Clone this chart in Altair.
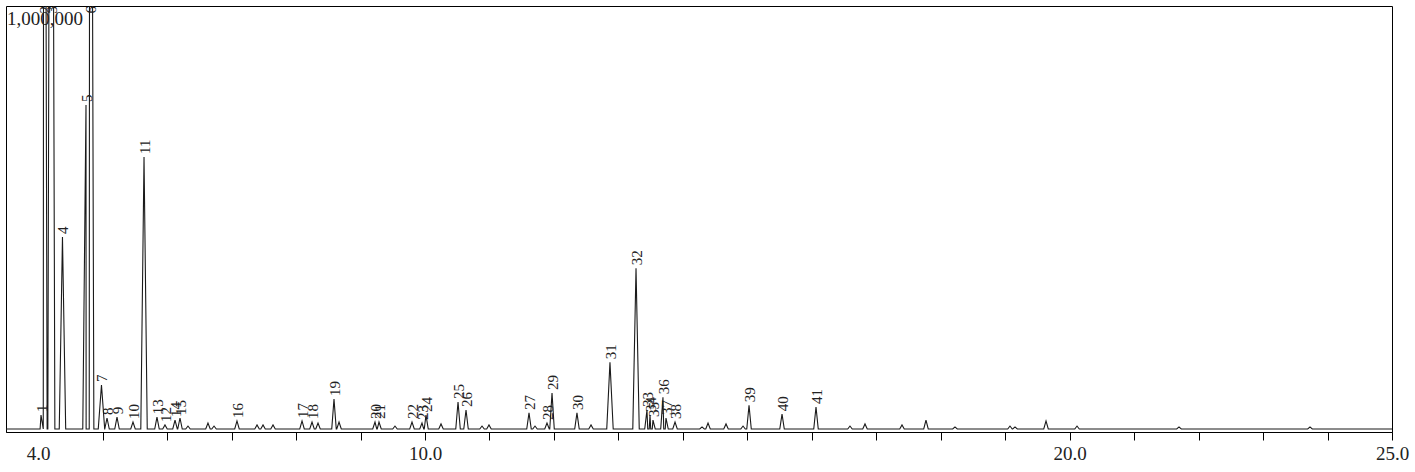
import altair as alt
import pandas as pd

# Labelled peaks: retention time (min) and intensity (counts)
peak_labels = [str(i) for i in range(1, 42)]
peak_times = [4.043, 4.089, 4.198, 4.376, 4.741, 4.803, 4.981, 5.067, 5.222, 5.470,
              5.641, 5.966, 5.842, 6.122, 6.199, 7.083, 8.092, 8.247, 8.588, 9.224,
              9.286, 9.798, 9.953, 10.015, 10.512, 10.636, 11.613, 11.892, 11.970, 12.357,
              12.869, 13.273, 13.443, 13.490, 13.536, 13.691, 13.738, 13.878, 15.026, 15.538,
              16.065]
peak_heights = [33000, 3000000, 3000000, 454000, 766000, 3000000, 104000, 26000, 28000, 16500,
                643000, 9500, 28000, 21000, 26000, 19000, 19000, 16500, 71000, 16500,
                16500, 16500, 14000, 33000, 64000, 45000, 38000, 14000, 85000, 38000,
                158000, 380000, 45000, 33000, 21000, 75000, 26000, 16500, 56000, 35000,
                52000]

# Unlabelled minor peaks
minor_times = [6.323, 6.633, 6.727, 7.394, 7.487, 7.642, 8.340, 8.666, 9.534, 10.248,
               10.884, 10.992, 11.706, 12.575, 14.297, 14.390, 14.669, 14.933, 16.592, 16.825,
               17.399, 17.771, 18.221, 19.074, 19.152, 19.633, 20.114, 21.696, 23.728]
minor_heights = [7000, 14000, 7000, 9500, 9500, 9500, 14000, 16500, 7000, 12000,
                 7000, 9500, 7000, 9500, 5000, 14000, 12000, 7000, 7000, 12000,
                 9500, 21000, 5000, 7000, 5000, 19000, 7000, 5000, 5000]

x_start, x_end = 3.5, 25.0
y_top = 1000000
tick_values = list(range(4, 26))

# Build the trace: each peak is baseline -> apex -> baseline
pts = [(x_start, 0.0), (x_end, 0.0)]
for t, h in zip(peak_times + minor_times, peak_heights + minor_heights):
    w = 0.06 if h > 1000000 else (0.05 if h >= 100000 else 0.035)
    pts += [(t - w, 0.0), (t, float(h)), (t + w, 0.0)]
pts.sort(key=lambda p: p[0])
trace = pd.DataFrame(pts, columns=["time", "intensity"])

labels = pd.DataFrame({
    "time": peak_times,
    "ly": [min(h, 975000) for h in peak_heights],
    "label": peak_labels,
})

xscale = alt.Scale(domain=[x_start, x_end], nice=False, zero=False)
yscale = alt.Scale(domain=[-7100, y_top], nice=False, zero=False)

label_expr = ("datum.value == 4 || datum.value == 10 || datum.value == 20 || datum.value == 25"
              " ? format(datum.value, '.1f') : ''")

line = alt.Chart(trace).mark_line(color="#1a1a1a", strokeWidth=1.1, clip=True).encode(
    x=alt.X("time:Q", scale=xscale, title=None,
            axis=alt.Axis(values=tick_values, labelExpr=label_expr, grid=False,
                          tickSize=8, tickColor="black", domainColor="black",
                          labelFont="Liberation Serif", labelFontSize=19,
                          labelColor="#222222", labelPadding=4,
                          labelOverlap=False, labelBound=False, labelFlush=False,
                          tickOpacity={"condition": {"test": "datum.value == 4", "value": 0},
                                       "value": 1})),
    y=alt.Y("intensity:Q", scale=yscale, axis=None),
)

text = alt.Chart(labels).mark_text(
    angle=270, align="left", baseline="middle", dx=3, dy=1,
    font="Liberation Serif", fontSize=15, color="#222222",
).encode(
    x=alt.X("time:Q", scale=xscale),
    y=alt.Y("ly:Q", scale=yscale),
    text="label:N",
)

scale_label = alt.Chart(pd.DataFrame({"t": ["1,000,000"]})).mark_text(
    align="left", baseline="middle", font="Liberation Serif", fontSize=19, color="#222222",
).encode(x=alt.value(1), y=alt.value(13), text="t:N")

chart = alt.layer(line, text, scale_label).properties(
    width=1386, height=426,
    autosize=alt.AutoSizeParams(type="none"),
    padding={"left": 6, "top": 6, "right": 23, "bottom": 40},
    background="white",
).configure_view(stroke="black", strokeWidth=1)

chart.save("out.html", embed_options={"renderer": "svg", "actions": False})
